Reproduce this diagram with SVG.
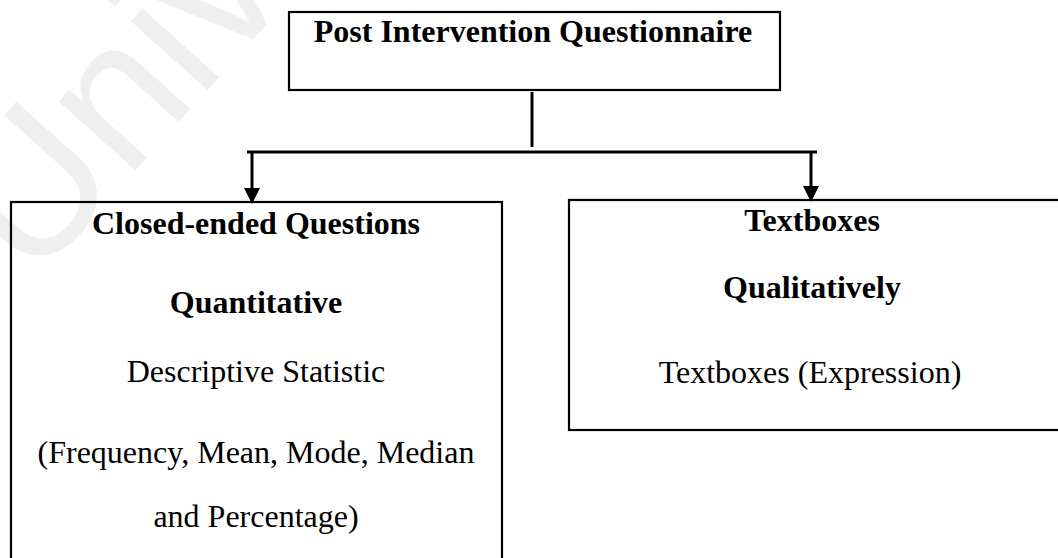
<svg xmlns="http://www.w3.org/2000/svg" width="1058" height="558" viewBox="0 0 1058 558">
  <style>
    .box { fill: none; stroke: #000; stroke-width: 2.2; }
    .wire { fill: none; stroke: #000; stroke-width: 3; }
    .t { font-family: "Liberation Serif", "Times New Roman", serif; font-size: 32px; fill: #000; text-anchor: middle; }
    .b { font-weight: bold; }
    .mark { font-family: "Liberation Sans", Arial, sans-serif; font-size: 195px; fill: #efefef; }
  </style>
  <defs>
    <marker id="head" markerUnits="userSpaceOnUse" markerWidth="16" markerHeight="16" refX="0" refY="7.5" orient="auto" viewBox="0 0 15 15">
      <path d="M0,0 L15,7.5 L0,15 z" fill="#000"/>
    </marker>
  </defs>

  <rect width="1058" height="558" fill="#fff"/>

  <!-- faint background watermark -->
  <text class="mark" transform="translate(32,285) rotate(-48)">Unive</text>

  <!-- connectors -->
  <g id="connectors">
    <line class="wire" x1="532" y1="92" x2="532" y2="147"/>
    <line class="wire" x1="247" y1="152" x2="817" y2="152"/>
    <line class="wire" x1="252" y1="152" x2="252" y2="188" marker-end="url(#head)"/>
    <line class="wire" x1="811" y1="152" x2="811" y2="186" marker-end="url(#head)"/>
  </g>

  <g id="node-post">
    <rect class="box" x="289" y="12" width="491" height="78"/>
    <text class="t b" x="533" y="42">Post Intervention Questionnaire</text>
  </g>

  <g id="node-closed">
    <rect class="box" x="11" y="202" width="491" height="400"/>
    <text class="t b" x="256" y="234">Closed-ended Questions</text>
    <text class="t b" x="256" y="313">Quantitative</text>
    <text class="t" x="256" y="382">Descriptive Statistic</text>
    <text class="t" x="256" y="463">(Frequency, Mean, Mode, Median</text>
    <text class="t" x="256" y="527">and Percentage)</text>
  </g>

  <g id="node-textboxes">
    <rect class="box" x="569" y="200" width="510" height="230"/>
    <text class="t b" x="812" y="231">Textboxes</text>
    <text class="t b" x="812" y="298">Qualitatively</text>
    <text class="t" x="810" y="383">Textboxes (Expression)</text>
  </g>
</svg>
